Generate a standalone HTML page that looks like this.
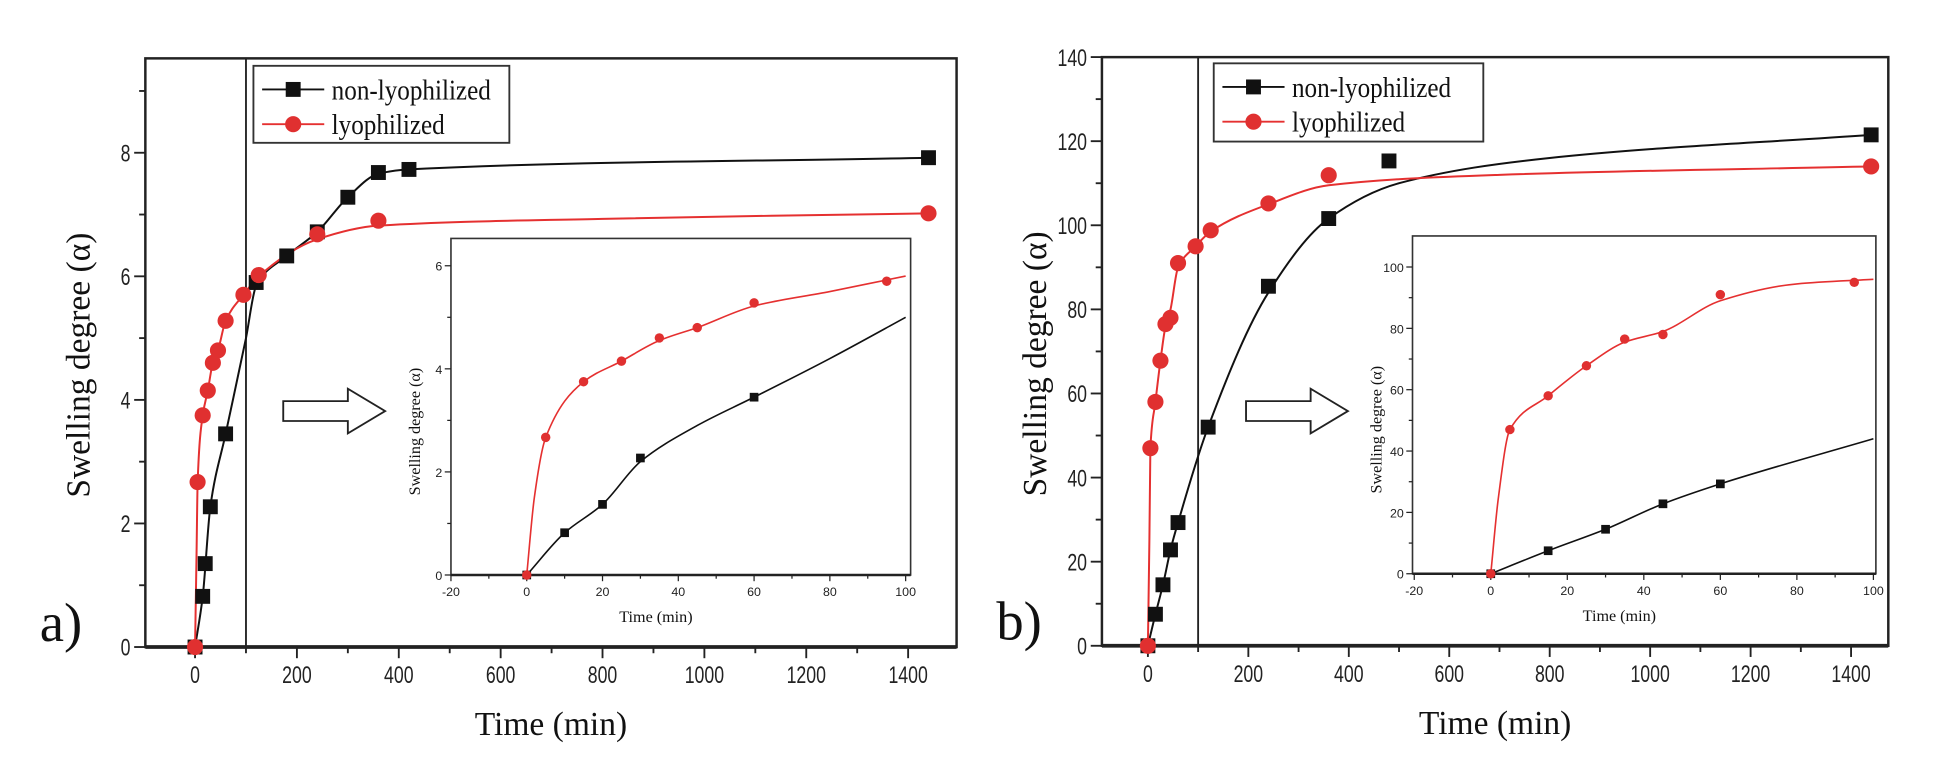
<!DOCTYPE html>
<html><head><meta charset="utf-8"><style>
html,body{margin:0;padding:0;background:#fff;}
svg{display:block;}
.tk{font-family:"Liberation Sans",sans-serif;font-size:19px;fill:#222;}
.itk{font-family:"Liberation Sans",sans-serif;font-size:10px;fill:#222;}
.ttl{font-family:"Liberation Serif",serif;font-size:27px;fill:#111;}
.ittl{font-family:"Liberation Serif",serif;font-size:13px;fill:#111;}
.leg{font-family:"Liberation Serif",serif;font-size:23px;fill:#111;}
</style></head><body>
<svg id="s" width="1938" height="765" viewBox="0 0 1560 616" preserveAspectRatio="none" xmlns="http://www.w3.org/2000/svg"></svg>
<script>
const S=document.getElementById('s');let h='';
function mono(pts,X,Y){const n=pts.length,x=pts.map(p=>p[0]),y=pts.map(p=>p[1]);const d=[],m=[];
for(let i=0;i<n-1;i++)d.push((y[i+1]-y[i])/(x[i+1]-x[i]));
m[0]=d[0];m[n-1]=d[n-2];
for(let i=1;i<n-1;i++){if(d[i-1]*d[i]<=0)m[i]=0;else{const h0=x[i]-x[i-1],h1=x[i+1]-x[i];m[i]=3*(h0+h1)/((2*h1+h0)/d[i-1]+(h1+2*h0)/d[i]);}}
let s='M'+X(x[0]).toFixed(1)+','+Y(y[0]).toFixed(1);
for(let i=0;i<n-1;i++){const dx=x[i+1]-x[i];
s+=`C${X(x[i]+dx/3).toFixed(1)},${Y(y[i]+m[i]*dx/3).toFixed(1)} ${X(x[i+1]-dx/3).toFixed(1)},${Y(y[i+1]-m[i+1]*dx/3).toFixed(1)} ${X(x[i+1]).toFixed(1)},${Y(y[i+1]).toFixed(1)}`;}
return s;}
function panel(o){
 const X=v=>o.x0+v*o.xs, Y=v=>o.y0-v*o.ys;
 h+=`<rect x="${o.L}" y="${o.T}" width="${o.R-o.L}" height="${o.B-o.T}" fill="none" stroke="#222" stroke-width="2"/>`;
 h+=`<line x1="${o.L}" y1="${o.B}" x2="${o.R}" y2="${o.B}" stroke="#222" stroke-width="3"/>`;
 h+=`<line x1="${X(100)}" y1="${o.T}" x2="${X(100)}" y2="${o.B}" stroke="#222" stroke-width="1.5"/>`;
 for(let v=0;v<=1400;v+=100){const x=X(v);h+=`<line x1="${x}" y1="${o.B}" x2="${x}" y2="${o.B+(v%200?5:9)}" stroke="#222" stroke-width="1.5"/>`;
  if(v%200==0)h+=`<text class="tk" x="${x}" y="${o.B+29}" text-anchor="middle" transform="translate(${x} 0) scale(0.75 1) translate(${-x} 0)">${v}</text>`;}
 for(let v=0;v<=o.ymax;v+=o.ystep/2){const y=Y(v);h+=`<line x1="${o.L}" y1="${y}" x2="${o.L-((v/o.ystep)%1?5:9)}" y2="${y}" stroke="#222" stroke-width="1.5"/>`;
  if(Math.abs((v/o.ystep)%1)<1e-6)h+=`<text class="tk" x="${o.L-12}" y="${y+7}" text-anchor="end" transform="translate(${o.L-12} 0) scale(0.75 1) translate(${-(o.L-12)} 0)">${v}</text>`;}
 h+=`<text class="ttl" x="${(o.L+o.R)/2}" y="${o.B+71}" text-anchor="middle">Time (min)</text>`;
 h+=`<text class="ttl" transform="translate(${o.L-45} ${(o.T+o.B)/2+10}) rotate(-90)" text-anchor="middle">Swelling degree (α)</text>`;
 h+=`<text x="${o.L-85}" y="${o.B-5}" style="font-family:'Liberation Serif',serif;font-size:44px" fill="#111">${o.lab}</text>`;
 const g=o.leg;h+=`<rect x="${g[0]}" y="${g[1]}" width="${g[2]}" height="${g[3]}" fill="#fff" stroke="#333" stroke-width="1.5"/>`;
 const tx=g[0]+63;
 let ly=g[1]+19;h+=`<line x1="${g[0]+7}" y1="${ly}" x2="${g[0]+57}" y2="${ly}" stroke="#111" stroke-width="1.5"/><rect x="${g[0]+26}" y="${ly-6}" width="12" height="12" fill="#111"/><text class="leg" x="${tx}" y="${ly+8}" transform="translate(${tx} 0) scale(0.88 1) translate(${-tx} 0)">non-lyophilized</text>`;
 ly=g[1]+47;h+=`<line x1="${g[0]+7}" y1="${ly}" x2="${g[0]+57}" y2="${ly}" stroke="#e53030" stroke-width="1.5"/><circle cx="${g[0]+32}" cy="${ly}" r="6.5" fill="#e03030"/><text class="leg" x="${tx}" y="${ly+8}" transform="translate(${tx} 0) scale(0.88 1) translate(${-tx} 0)">lyophilized</text>`;
 h+=`<path d="${mono(o.bc,X,Y)}" fill="none" stroke="#111" stroke-width="1.6"/>`;
 h+=`<path d="${mono(o.rc,X,Y)}" fill="none" stroke="#e53030" stroke-width="1.6"/>`;
 o.bp.forEach(p=>h+=`<rect x="${X(p[0])-6}" y="${Y(p[1])-6}" width="12" height="12" fill="#111"/>`);
 o.rp.forEach(p=>h+=`<circle cx="${X(p[0])}" cy="${Y(p[1])}" r="6.5" fill="#e03030"/>`);
 const a=o.arr;h+=`<path d="M${a[0]},${a[1]-8} h52 v-10 l30,18 l-30,18 v-10 h-52 z" fill="#fff" stroke="#222" stroke-width="1.5"/>`;
 const I=o.ins, IX=v=>I.x0+v*I.xs, IY=v=>I.y0-v*I.ys;
 h+=`<rect x="${I.L}" y="${I.T}" width="${I.R-I.L}" height="${I.B-I.T}" fill="#fff" stroke="#333" stroke-width="1.3"/>`;
 h+=`<line x1="${I.L}" y1="${I.B}" x2="${I.R}" y2="${I.B}" stroke="#222" stroke-width="2"/>`;
 for(let v=-20;v<=100;v+=10){const x=IX(v);h+=`<line x1="${x}" y1="${I.B}" x2="${x}" y2="${I.B+(v%20?3:5)}" stroke="#222"/>`;
  if(v%20==0)h+=`<text class="itk" x="${x}" y="${I.B+17}" text-anchor="middle">${v}</text>`;}
 for(let v=0;v<=I.ymax;v+=I.ystep/2){const y=IY(v);h+=`<line x1="${I.L}" y1="${y}" x2="${I.L-((v/I.ystep)%1?3:5)}" y2="${y}" stroke="#222"/>`;
  if(Math.abs((v/I.ystep)%1)<1e-6)h+=`<text class="itk" x="${I.L-7}" y="${y+4}" text-anchor="end">${v}</text>`;}
 h+=`<text class="ittl" x="${(I.L+I.R)/2-20}" y="${I.B+38}" text-anchor="middle">Time (min)</text>`;
 h+=`<text class="ittl" transform="translate(${I.L-25} ${(I.T+I.B)/2+20}) rotate(-90)" text-anchor="middle">Swelling degree (α)</text>`;
 h+=`<path d="${mono(I.bc,IX,IY)}" fill="none" stroke="#111" stroke-width="1.3"/>`;
 h+=`<path d="${mono(I.rc,IX,IY)}" fill="none" stroke="#e53030" stroke-width="1.3"/>`;
 I.bp.forEach(p=>h+=`<rect x="${IX(p[0])-3.5}" y="${IY(p[1])-3.5}" width="7" height="7" fill="#111"/>`);
 I.rp.forEach(p=>h+=`<circle cx="${IX(p[0])}" cy="${IY(p[1])}" r="3.8" fill="#e03030"/>`);
}
const bA=[[0,0],[15,0.82],[20,1.35],[30,2.27],[60,3.45],[120,5.9],[180,6.33],[240,6.72],[300,7.28],[360,7.68],[420,7.73],[1440,7.92]];
const rA=[[0,0],[5,2.67],[15,3.75],[25,4.15],[35,4.6],[45,4.8],[60,5.28],[95,5.7],[125,6.02],[240,6.68],[360,6.9],[1440,7.02]];
panel({L:117,R:770,T:47,B:521,x0:157,xs:0.41,y0:521,ys:49.75,ymax:9,ystep:2,lab:'a)',leg:[204,53,206,62],
 bc:[[0,0],[15,0.82],[30,2.27],[60,3.45],[100,5.0],[120,5.85],[180,6.33],[240,6.72],[300,7.28],[360,7.66],[420,7.73],[1440,7.92]],
 rc:[[0,0],[3,1.5],[5,2.67],[15,3.75],[25,4.15],[35,4.6],[45,4.8],[60,5.28],[95,5.7],[125,6.0],[240,6.6],[360,6.82],[800,6.93],[1440,7.02]],bp:bA,rp:rA,arr:[228,331],
 ins:{L:363,R:733,T:192,B:463,x0:424,xs:3.05,y0:463,ys:41.5,ymax:6.5,ystep:2,
  bc:[[0,0],[10,0.82],[20,1.37],[30,2.2],[45,2.9],[60,3.45],[80,4.2],[100,5.0]],
  rc:[[0,0],[2,1.5],[5,2.67],[15,3.75],[25,4.15],[35,4.55],[45,4.8],[60,5.22],[80,5.5],[100,5.8]],
  bp:[[0,0],[10,0.82],[20,1.37],[30,2.27],[60,3.45]],rp:[[0,0],[5,2.67],[15,3.75],[25,4.15],[35,4.6],[45,4.8],[60,5.28],[95,5.7]]}});
const bB=[[0,0],[15,7.5],[30,14.5],[45,22.8],[60,29.3],[120,52],[240,85.5],[360,101.6],[480,115.3],[1440,121.5]];
const rB=[[0,0],[5,47],[15,58],[25,67.8],[35,76.5],[45,78],[60,91],[95,95],[125,98.8],[240,105.2],[360,111.9],[1440,114]];
panel({L:887,R:1520,T:46,B:520,x0:924,xs:0.4043,y0:520,ys:3.386,ymax:140,ystep:20,lab:'b)',leg:[977,51,217,63],
 bc:[[0,0],[15,7.5],[30,14.5],[45,22.8],[60,29.3],[120,52],[240,84],[360,101.6],[500,110],[800,116],[1440,121.5]],
 rc:[[0,0],[3,25],[5,47],[15,58],[25,67.8],[35,76],[45,80],[60,90],[95,95],[125,98.5],[240,105],[360,109.5],[700,112],[1440,114]],bp:bB,rp:rB,arr:[1003,331],
 ins:{L:1137,R:1510,T:190,B:462,x0:1200,xs:3.08,y0:462,ys:2.47,ymax:105,ystep:20,
  bc:[[0,0],[15,7.5],[30,14.5],[45,22.8],[60,29.3],[100,44]],
  rc:[[0,0],[2,25],[5,47],[15,58],[25,67.8],[35,75.5],[45,79],[60,89],[80,94.5],[100,96]],
  bp:[[0,0],[15,7.5],[30,14.5],[45,22.8],[60,29.3]],rp:[[0,0],[5,47],[15,58],[25,67.8],[35,76.5],[45,78],[60,91],[95,95]]}});
S.innerHTML=h;
</script>
</body></html>
